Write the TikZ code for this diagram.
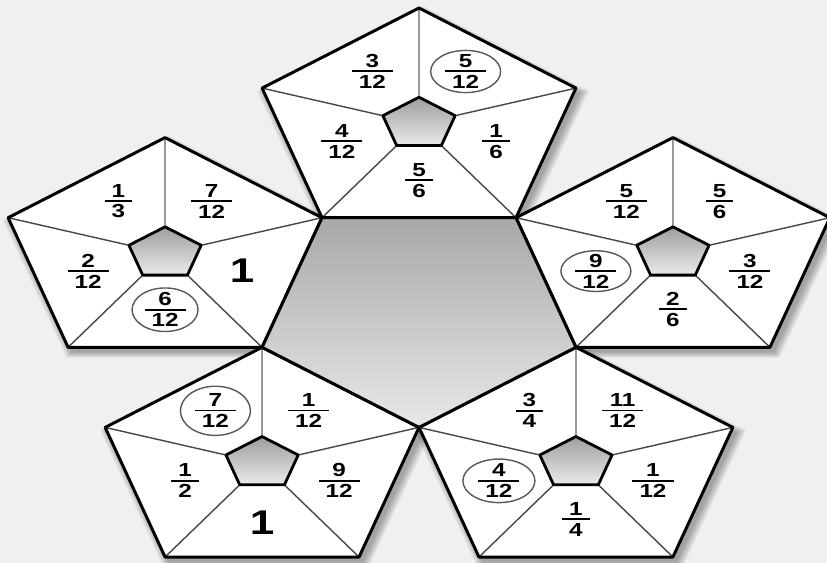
\documentclass[tikz,border=0pt]{standalone}
\usepackage{fontspec}
\setmainfont{Liberation Sans}
\usepackage{graphicx}
\usepackage{tikz}

\newcommand{\fr}[2]{\scalebox{1}[0.78]{\renewcommand{\arraystretch}{0}\setlength{\arrayrulewidth}{1.4pt}%
  \begin{tabular}{@{\hspace{4pt}}c@{\hspace{4pt}}}\rule[-2pt]{0pt}{2pt}#1\\\hline\rule{0pt}{11.9pt}#2\end{tabular}}}
\newcommand{\whole}[1]{\scalebox{1}[0.78]{#1}}

\begin{document}
\begin{tikzpicture}[
  x=0.02cm, y=0.01405cm,
  rim/.style={draw=black, line width=1.7pt, line join=round},
  hub/.style={draw=black, line width=1.6pt, line join=round, top color=black!38, bottom color=black!8},
  spoke/.style={draw=black!72, line width=0.8pt},
  topspoke/.style={draw=black!40, line width=1.1pt},
  frac/.style={font=\bfseries\fontsize{13.8}{15}\selectfont, inner sep=0pt},
  big/.style={font=\bfseries\fontsize{25}{27}\selectfont, inner sep=0pt},
  ring/.style={draw=black!65, line width=0.8pt},
  shade/.pic={
    \foreach \k [evaluate=\k as \r using 165+1.6*\k] in {0,...,6}
      \fill[black, opacity=0.05] (4,-7) +(90:\r) -- +(162:\r) -- +(234:\r) -- +(306:\r) -- +(18:\r) -- cycle;
  },
  face/.pic={
    \fill[white] (0,0) +(90:165) -- +(162:165) -- +(234:165) -- +(306:165) -- +(18:165) -- cycle;
    \draw[topspoke] (90:38) -- (90:165);
    \foreach \a in {162,234,306,18}
      \draw[spoke] (\a:38) -- (\a:165);
    \draw[rim] (0,0) +(90:165) -- +(162:165) -- +(234:165) -- +(306:165) -- +(18:165) -- cycle;
    \draw[hub] (0,0) +(90:38) -- +(162:38) -- +(234:38) -- +(306:38) -- +(18:38) -- cycle;
  }
]

% Background
\fill[black!6] (0,0) rectangle (827,801.4);
\useasboundingbox (0,0) rectangle (827,801.4);

% Face centres
\coordinate (mid) at (419,358);
\path (mid) ++(90:267) coordinate (topface);
\path (mid) ++(162:267) coordinate (leftface);
\path (mid) ++(18:267) coordinate (rightface);
\path (mid) ++(234:267) coordinate (lowleftface);
\path (mid) ++(306:267) coordinate (lowrightface);

% Faces
\foreach \p in {topface,leftface,rightface,lowleftface,lowrightface}
  \pic at (\p) {shade};
\foreach \p in {topface,leftface,rightface,lowleftface,lowrightface}
  \pic at (\p) {face};
\draw[rim, top color=black!34, bottom color=black!9] (mid) +(270:165) -- +(342:165) -- +(54:165) -- +(126:165) -- +(198:165) -- cycle;

% Top face
\node[frac] (topface-ul) at ([shift={(122:88)}]topface) {\fr{3}{12}};
\node[frac] (topface-ur) at ([shift={(58:88)}]topface) {\fr{5}{12}};
\node[frac] (topface-l) at ([shift={(198:81)}]topface) {\fr{4}{12}};
\node[frac] (topface-r) at ([shift={(342:81)}]topface) {\fr{1}{6}};
\node[frac] (topface-b) at ([shift={(270:80)}]topface) {\fr{5}{6}};

% Left face
\node[frac] (leftface-ul) at ([shift={(122:88)}]leftface) {\fr{1}{3}};
\node[frac] (leftface-ur) at ([shift={(58:88)}]leftface) {\fr{7}{12}};
\node[frac] (leftface-l) at ([shift={(198:81)}]leftface) {\fr{2}{12}};
\node[big] (leftface-r) at ([shift={(342:81)}]leftface) {\whole{1}};
\node[frac] (leftface-b) at ([shift={(270:80)}]leftface) {\fr{6}{12}};

% Right face
\node[frac] (rightface-ul) at ([shift={(122:88)}]rightface) {\fr{5}{12}};
\node[frac] (rightface-ur) at ([shift={(58:88)}]rightface) {\fr{5}{6}};
\node[frac] (rightface-l) at ([shift={(198:81)}]rightface) {\fr{9}{12}};
\node[frac] (rightface-r) at ([shift={(342:81)}]rightface) {\fr{3}{12}};
\node[frac] (rightface-b) at ([shift={(270:80)}]rightface) {\fr{2}{6}};

% Lower left face
\node[frac] (lowleftface-ul) at ([shift={(122:88)}]lowleftface) {\fr{7}{12}};
\node[frac] (lowleftface-ur) at ([shift={(58:88)}]lowleftface) {\fr{1}{12}};
\node[frac] (lowleftface-l) at ([shift={(198:81)}]lowleftface) {\fr{1}{2}};
\node[frac] (lowleftface-r) at ([shift={(342:81)}]lowleftface) {\fr{9}{12}};
\node[big] (lowleftface-b) at ([shift={(270:84)}]lowleftface) {\whole{1}};

% Lower right face
\node[frac] (lowrightface-ul) at ([shift={(122:88)}]lowrightface) {\fr{3}{4}};
\node[frac] (lowrightface-ur) at ([shift={(58:88)}]lowrightface) {\fr{11}{12}};
\node[frac] (lowrightface-l) at ([shift={(198:81)}]lowrightface) {\fr{4}{12}};
\node[frac] (lowrightface-r) at ([shift={(342:81)}]lowrightface) {\fr{1}{12}};
\node[frac] (lowrightface-b) at ([shift={(270:80)}]lowrightface) {\fr{1}{4}};

% Circled answers
\draw[ring] (topface-ur.center) ellipse [x radius=35, y radius=30];
\draw[ring] (leftface-b.center) ellipse [x radius=33, y radius=31];
\draw[ring] (rightface-l.center) ellipse [x radius=35, y radius=29];
\draw[ring] (lowleftface-ul.center) ellipse [x radius=35, y radius=35];
\draw[ring] (lowrightface-l.center) ellipse [x radius=36, y radius=31];

\end{tikzpicture}
\end{document}
